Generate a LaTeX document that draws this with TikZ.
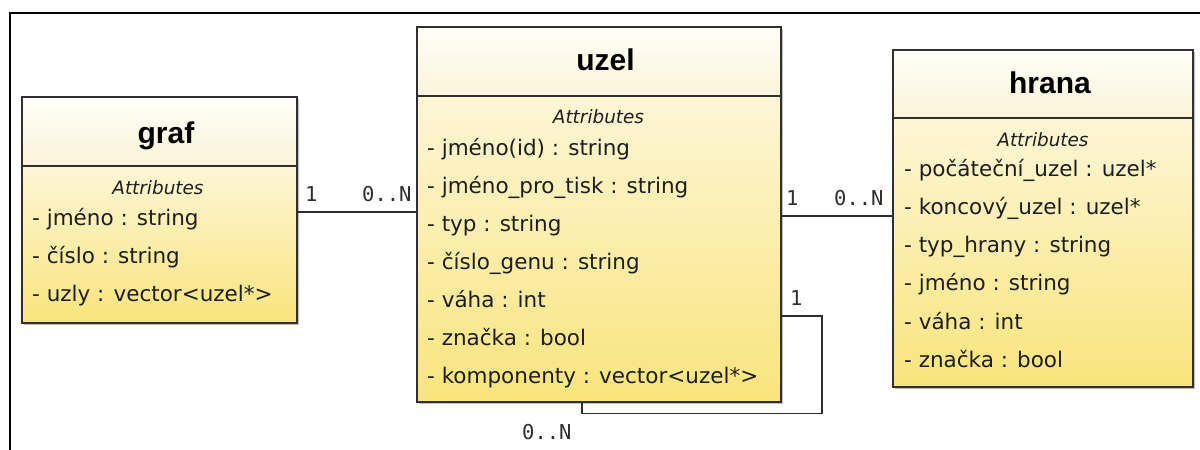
\documentclass[tikz,border=0pt]{standalone}
\usepackage{fontspec}
\setmainfont{DejaVu Sans}
\newfontfamily\titlefont{Liberation Sans}
\newfontfamily\multfont{DejaVu Sans Mono}
\usetikzlibrary{shadows}

\definecolor{boxline}{HTML}{303030}
\definecolor{headtop}{HTML}{FFFEF8}
\definecolor{headbot}{HTML}{FBF4DA}
\definecolor{bodytop}{HTML}{FDF6D6}
\definecolor{bodybot}{HTML}{F9E47C}
\definecolor{inktext}{HTML}{1E1E1E}
\definecolor{wire}{HTML}{2E2E2E}

\tikzset{
  classpart/.style={draw=boxline, line width=1.5pt, inner sep=0pt, outer sep=0pt,
    drop shadow={shadow xshift=1.5pt, shadow yshift=-1.5pt, fill=black, opacity=0.25}},
  classhead/.style={classpart, top color=headtop, bottom color=headbot},
  classbody/.style={classpart, top color=bodytop, bottom color=bodybot},
  classtitle/.style={anchor=base, inner sep=0pt, text=black,
    font=\titlefont\bfseries\fontsize{30}{32}\selectfont},
  sectiontitle/.style={anchor=base, inner sep=0pt, text=inktext,
    font=\itshape\fontsize{18.4}{20}\selectfont},
  attr/.style={anchor=base west, inner sep=0pt, text=inktext,
    font=\fontsize{21.5}{24}\selectfont},
  mult/.style={anchor=base west, inner sep=0pt, text=wire,
    font=\multfont\fontsize{20.5}{22}\selectfont},
  assoc/.style={draw=wire, line width=1.5pt},
  frameline/.style={draw=black, line width=2.2pt}
}

\begin{document}
\begin{tikzpicture}[x=1pt, y=-1pt]
  \useasboundingbox (0,0) rectangle (1200,450);

  % outer frame
  \coordinate (frame-tr) at (1205,13.3);
  \coordinate (frame-tl) at (10,13.3);
  \coordinate (frame-bl) at (10,455);
  \draw[frameline] (frame-tr) -- (frame-tl) -- (frame-bl);

  % class graf
  \node[classhead, minimum width=275pt, minimum height=69pt] (graf-head) at (159.5,131.5) {};
  \node[classbody, minimum width=275pt, minimum height=157pt] (graf-body) at (159.5,244.5) {};
  \node[classtitle] (graf-title) at (166,143) {graf};
  \node[sectiontitle] (graf-sec) at (158,194) {Attributes};
  \foreach \t [count=\i from 0] in {- jméno : string, - číslo : string, - uzly : vector<uzel*>}
    \node[attr] (graf-a\i) at (32,225+38*\i) {\t};

  % class uzel
  \node[classhead, minimum width=364pt, minimum height=69pt] (uzel-head) at (599,61.5) {};
  \node[classbody, minimum width=364pt, minimum height=306pt] (uzel-body) at (599,249) {};
  \node[classtitle] (uzel-title) at (605.5,70.7) {uzel};
  \node[sectiontitle] (uzel-sec) at (598.5,123) {Attributes};
  \foreach \t [count=\i from 0] in {- jméno(id) : string, - jméno\_pro\_tisk : string,
      - typ : string, - číslo\_genu : string, - váha : int, - značka : bool,
      - komponenty : vector<uzel*>}
    \node[attr] (uzel-a\i) at (427,155+38*\i) {\t};

  % class hrana
  \node[classhead, minimum width=300pt, minimum height=68pt] (hrana-head) at (1043,84) {};
  \node[classbody, minimum width=300pt, minimum height=269pt] (hrana-body) at (1043,252.5) {};
  \node[classtitle] (hrana-title) at (1050,93) {hrana};
  \node[sectiontitle] (hrana-sec) at (1043,146) {Attributes};
  \foreach \t [count=\i from 0] in {- počáteční\_uzel : uzel*, - koncový\_uzel : uzel*,
      - typ\_hrany : string, - jméno : string, - váha : int, - značka : bool}
    \node[attr] (hrana-a\i) at (904,176+38.3*\i) {\t};

  % association graf -- uzel
  \draw[assoc] (graf-body.east |- 0,212) -- (uzel-body.west |- 0,212);
  \node[mult] (m-graf) at (305,201.5) {1};
  \node[mult] (m-graf-uzel) at (362,201.5) {0..N};

  % association uzel -- hrana
  \draw[assoc] (uzel-body.east |- 0,216) -- (hrana-body.west |- 0,216);
  \node[mult] (m-uzel) at (786,205) {1};
  \node[mult] (m-hrana) at (834,205) {0..N};

  % self association of uzel
  \coordinate (loop-a) at (822,316);
  \coordinate (loop-b) at (822,413.3);
  \coordinate (loop-c) at (582,413.3);
  \draw[assoc] (uzel-body.east |- 0,316) -- (loop-a) -- (loop-b) -- (loop-c) -- (loop-c |- uzel-body.south);
  \node[mult] (m-loop-1) at (790,305) {1};
  \node[mult] (m-loop-n) at (522,439) {0..N};
\end{tikzpicture}
\end{document}
